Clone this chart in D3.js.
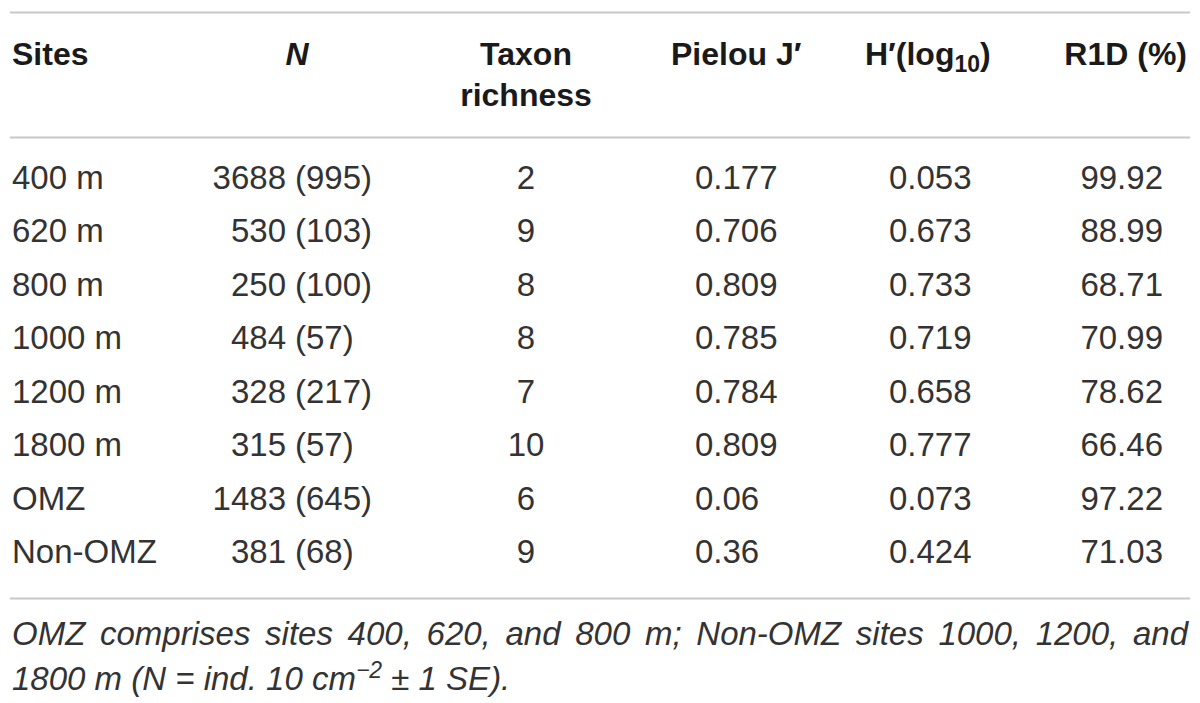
<!DOCTYPE html>
<html lang="en">
<head>
  <meta charset="UTF-8">
  <title>table</title>
  <script src="https://cdn.jsdelivr.net/npm/d3@7"></script>
  <style>
    body { margin: 0; background: #fff; }
    text { font-family: "Liberation Sans", Arial, sans-serif; }
  </style>
</head>
<body>
  <svg width="1200" height="703"></svg>
  <script>
    var sites = ['400 m', '620 m', '800 m', '1000 m', '1200 m', '1800 m', 'OMZ', 'Non-OMZ']
    var nMean = [3688, 530, 250, 484, 328, 315, 1483, 381]
    var nSE = [995, 103, 100, 57, 217, 57, 645, 68]
    var taxonRichness = [2, 9, 8, 8, 7, 10, 6, 9]
    var pielouJ = ['0.177', '0.706', '0.809', '0.785', '0.784', '0.809', '0.06', '0.36']
    var shannonH = ['0.053', '0.673', '0.733', '0.719', '0.658', '0.777', '0.073', '0.424']
    var r1d = ['99.92', '88.99', '68.71', '70.99', '78.62', '66.46', '97.22', '71.03']

    var svg = d3.select('svg')
    var fs = 33
    var bodyColor = '#333'

    // rules
    var rules = [12, 137, 598]
    svg.selectAll('.rule')
      .data(rules)
      .enter()
      .append('line')
      .attr('x1', 10).attr('x2', 1190)
      .attr('y1', d => d + 0.5).attr('y2', d => d + 0.5)
      .attr('stroke', '#c8c8c8')
      .attr('stroke-width', 2)

    // header
    var head = svg.append('g')
      .attr('font-weight', 'bold')
      .attr('font-size', 32)
      .attr('fill', '#1a1a1a')
    head.append('text').attr('x', 12).attr('y', 65).text('Sites')
    head.append('text').attr('x', 297).attr('y', 65).attr('text-anchor', 'middle')
      .attr('font-style', 'italic').text('N')
    head.append('text').attr('x', 526).attr('y', 65).attr('text-anchor', 'middle').text('Taxon')
    head.append('text').attr('x', 526).attr('y', 106).attr('text-anchor', 'middle').text('richness')
    head.append('text').attr('x', 671).attr('y', 65).text('Pielou J\u2032')
    var h = head.append('text').attr('x', 865).attr('y', 65)
    h.append('tspan').text('H\u2032(log')
    h.append('tspan').attr('font-size', 23).attr('dy', 7).text('10')
    h.append('tspan').attr('dy', -7).text(')')
    head.append('text').attr('x', 1187).attr('y', 65).attr('text-anchor', 'end').text('R1D (%)')

    // rows
    var y = d3.scalePoint()
      .domain(sites)
      .range([189, 563])

    var body = svg.append('g')
      .attr('font-size', fs)
      .attr('fill', bodyColor)

    var rows = body.selectAll('.row')
      .data(sites)
      .enter()
      .append('g')
      .attr('class', 'row')
      .attr('transform', d => `translate(0,${y(d)})`)

    rows.append('text').attr('x', 12).text(d => d)
    // N: mean right aligned, SE in brackets after it
    rows.append('text').attr('x', 286).attr('text-anchor', 'end').text((d, i) => nMean[i])
    rows.append('text').attr('x', 295).text((d, i) => `(${nSE[i]})`)
    rows.append('text').attr('x', 526).attr('text-anchor', 'middle').text((d, i) => taxonRichness[i])
    rows.append('text').attr('x', 695).text((d, i) => pielouJ[i])
    rows.append('text').attr('x', 889).text((d, i) => shannonH[i])
    rows.append('text').attr('x', 1163).attr('text-anchor', 'end').text((d, i) => r1d[i])

    // footnote
    var foot = svg.append('g')
      .attr('font-size', fs)
      .attr('font-style', 'italic')
      .attr('fill', bodyColor)
    var f1 = foot.append('text').attr('x', 12).attr('y', 645)
      .text('OMZ comprises sites 400, 620, and 800 m; Non-OMZ sites 1000, 1200, and')
    // justify first line by widening word gaps
    var natural = f1.node().getComputedTextLength()
    var gaps = f1.text().split(' ').length - 1
    f1.attr('word-spacing', Math.max(0, (1176 - natural) / gaps))

    var f2 = foot.append('text').attr('x', 12).attr('y', 690)
    f2.append('tspan').text('1800 m (N = ind. 10 cm')
    f2.append('tspan').attr('font-size', 23).attr('dy', -12).text('\u22122')
    f2.append('tspan').attr('dy', 12).text(' \u00b1 1 SE).')
  </script>
</body>
</html>
